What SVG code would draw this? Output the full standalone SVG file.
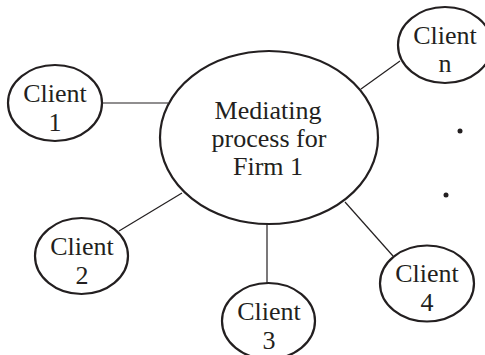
<svg xmlns="http://www.w3.org/2000/svg" width="485" height="355" viewBox="0 0 485 355">
  <style>
    .node { fill: #ffffff; stroke: #231f20; stroke-width: 2.2; }
    .link { stroke: #231f20; stroke-width: 1.2; fill: none; }
    .label { font-family: "Liberation Serif", "Times New Roman", serif; font-size: 26px; fill: #231f20; text-anchor: middle; }
    .dot { fill: #231f20; }
  </style>
  <rect width="485" height="355" fill="#ffffff"/>

  <!-- connectors from the hub to each client -->
  <g id="connectors">
    <line class="link" x1="102" y1="103" x2="168" y2="103"/>
    <line class="link" x1="361" y1="89" x2="400" y2="61"/>
    <line class="link" x1="182" y1="193" x2="119" y2="231"/>
    <line class="link" x1="267" y1="224" x2="267" y2="284"/>
    <line class="link" x1="345" y1="202" x2="393" y2="256"/>
  </g>

  <!-- hub -->
  <g id="hub">
    <ellipse class="node" cx="269" cy="137.5" rx="109" ry="86.5"/>
    <text class="label" x="268" y="119">Mediating</text>
    <text class="label" x="269" y="147">process for</text>
    <text class="label" x="268" y="175">Firm 1</text>
  </g>

  <g id="client1">
    <ellipse class="node" cx="55" cy="103" rx="47" ry="38"/>
    <text class="label" x="55" y="102">Client</text>
    <text class="label" x="55" y="131">1</text>
  </g>

  <g id="client2">
    <ellipse class="node" cx="81.5" cy="256" rx="46.5" ry="38"/>
    <text class="label" x="82" y="255">Client</text>
    <text class="label" x="82" y="284">2</text>
  </g>

  <g id="client3">
    <ellipse class="node" cx="268.5" cy="321" rx="46.5" ry="38"/>
    <text class="label" x="269" y="320">Client</text>
    <text class="label" x="269" y="349">3</text>
  </g>

  <g id="client4">
    <ellipse class="node" cx="427" cy="283.5" rx="47" ry="38"/>
    <text class="label" x="427" y="282">Client</text>
    <text class="label" x="427" y="311">4</text>
  </g>

  <g id="clientN">
    <ellipse class="node" cx="445" cy="45" rx="47" ry="38"/>
    <text class="label" x="445" y="44">Client</text>
    <text class="label" x="445" y="72">n</text>
  </g>

  <!-- ellipsis dots between client 4 and client n -->
  <g id="ellipsis">
    <circle class="dot" cx="460" cy="131" r="2.5"/>
    <circle class="dot" cx="446" cy="195" r="2.5"/>
  </g>
</svg>
